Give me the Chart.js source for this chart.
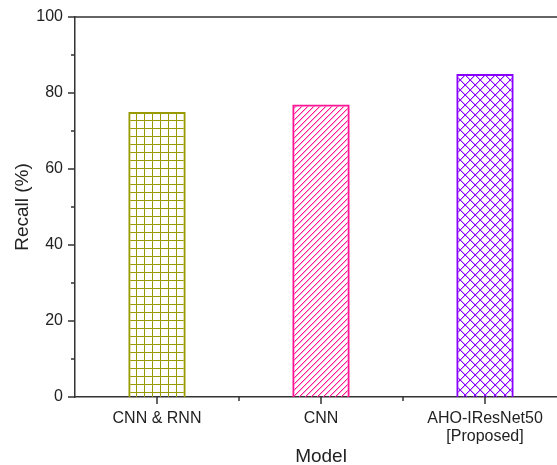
<!DOCTYPE html>
<html>
<head>
<meta charset="utf-8">
<script src="https://cdn.jsdelivr.net/npm/chart.js@4.4.1/dist/chart.umd.min.js"></script>
<style>
    html, body { margin: 0; padding: 0; background: #fff; overflow: hidden; }
    #wrap { width: 600px; height: 465px; }
</style>
</head>
<body>
<div id="wrap"><canvas id="recallChart"></canvas></div>
<script>
var models = [["CNN & RNN"], ["CNN"], ["AHO-IResNet50", "[Proposed]"]];
var recall = [75, 77, 85];
var yMin = 0, yMax = 100, yStep = 20, yMinorStep = 10;

var barColors = ["#999900", "#ff1493", "#8a00ff"];
var hatchKinds = ["grid", "diagonal", "cross"];

// small pixel tiles used as bar fill patterns (drawn with fillRect, no anti-aliasing)
function makeHatch(kind, color) {
    var s = kind === "grid" ? 8 : (kind === "diagonal" ? 6 : 10);
    var c = document.createElement("canvas");
    c.width = s;
    c.height = s;
    var ctx = c.getContext("2d");
    ctx.fillStyle = color;
    if (kind === "grid") {
        ctx.fillRect(0, 0, s, 1);
        ctx.fillRect(0, 0, 1, s);
    } else {
        for (var r = 0; r < s; r++) {
            ctx.globalAlpha = 1;
            ctx.fillRect(s - 1 - r, r, 1, 1);
            ctx.globalAlpha = 0.35;
            ctx.fillRect((2 * s - r) % s, r, 1, 1);
            if (kind === "cross") {
                ctx.globalAlpha = 1;
                ctx.fillRect(r, r, 1, 1);
                ctx.globalAlpha = 0.35;
                ctx.fillRect((r + 1) % s, r, 1, 1);
            }
        }
    }
    return ctx.createPattern(c, "repeat");
}

var fills = hatchKinds.map(function(k, i) { return makeHatch(k, barColors[i]); });

// tick marks (major + minor) and the top frame line
var tickMarks = {
    id: "tickMarks",
    afterDraw: function(chart) {
        var ctx = chart.ctx, a = chart.chartArea;
        var x = chart.scales.x, y = chart.scales.y;
        ctx.save();
        ctx.strokeStyle = "#333";
        ctx.lineWidth = 1.5;
        ctx.beginPath();
        for (var v = yMin; v <= yMax; v += yMinorStep) {
            var py = y.getPixelForValue(v);
            var len = v % yStep === 0 ? 7 : 4;
            ctx.moveTo(a.left, py);
            ctx.lineTo(a.left - len, py);
        }
        for (var i = 0; i < models.length; i++) {
            var px = x.getPixelForValue(i);
            ctx.moveTo(px, a.bottom);
            ctx.lineTo(px, a.bottom + 7);
        }
        for (var j = 1; j < models.length; j++) {
            var mx = x.getPixelForValue(j - 0.5);
            ctx.moveTo(mx, a.bottom);
            ctx.lineTo(mx, a.bottom + 4);
        }
        ctx.moveTo(a.left, a.top);
        ctx.lineTo(a.right, a.top);
        ctx.stroke();
        ctx.restore();
    }
};

new Chart(document.getElementById("recallChart"), {
    type: "bar",
    data: {
        labels: models,
        datasets: [{
            label: "Recall",
            data: recall,
            backgroundColor: fills,
            borderColor: barColors,
            borderWidth: 2,
            barPercentage: 0.35,
            categoryPercentage: 1
        }]
    },
    options: {
        responsive: true,
        maintainAspectRatio: false,
        animation: false,
        layout: { padding: { top: 17, right: 33, left: 0, bottom: 0 } },
        plugins: {
            legend: { display: false },
            tooltip: { enabled: false }
        },
        scales: {
            x: {
                afterFit: function(s) { s.height = 68; },
                grid: { display: false, drawTicks: false, offset: true },
                border: { display: true, color: "#333", width: 1.5 },
                ticks: {
                    color: "#222",
                    padding: 13,
                    maxRotation: 0,
                    autoSkip: false,
                    font: { family: "'Liberation Sans', Arial, sans-serif", size: 16, lineHeight: 1.1 }
                },
                title: {
                    display: true,
                    text: "Model",
                    color: "#222",
                    padding: { top: 0, bottom: -3 },
                    font: { family: "'Liberation Sans', Arial, sans-serif", size: 19 }
                }
            },
            y: {
                min: yMin,
                max: yMax,
                afterFit: function(s) {
                    s.width = 75;
                    s.paddingTop = 0;
                    s.paddingBottom = 0;
                },
                grid: { display: false, drawTicks: false },
                border: { display: true, color: "#333", width: 1.5 },
                ticks: {
                    stepSize: yStep,
                    color: "#222",
                    padding: 12,
                    font: { family: "'Liberation Sans', Arial, sans-serif", size: 16 }
                },
                title: {
                    display: true,
                    text: "Recall (%)",
                    color: "#222",
                    padding: { top: 11, bottom: 0 },
                    font: { family: "'Liberation Sans', Arial, sans-serif", size: 19 }
                }
            }
        }
    },
    plugins: [tickMarks]
});
</script>
</body>
</html>
